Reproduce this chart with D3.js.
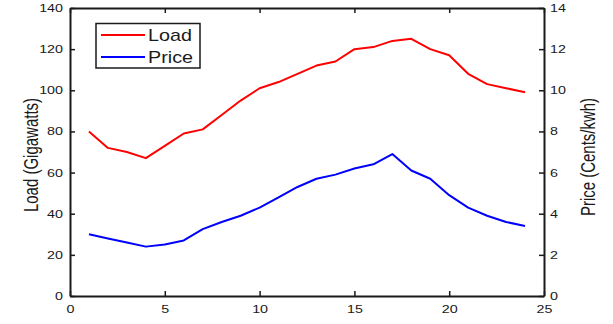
<!DOCTYPE html>
<html>
<head>
<meta charset="utf-8">
<script src="https://cdn.jsdelivr.net/npm/d3@7"></script>
<style>
  html, body { margin: 0; padding: 0; background: #fff; }
  svg { display: block; }
  text { font-family: "Liberation Sans", Arial, Helvetica, sans-serif; fill: #1a1a1a; }
</style>
</head>
<body>
<svg id="chart" width="613" height="324"></svg>
<script>
// Hourly load and electricity price over one day
const hours = d3.range(1, 25);
const load = [80, 72, 70, 67, 73, 79, 81, 88, 95, 101, 104, 108, 112, 114, 120, 121, 124, 125, 120, 117, 108, 103, 101, 99];
const price = [3.0, 2.8, 2.6, 2.4, 2.5, 2.7, 3.25, 3.6, 3.9, 4.3, 4.8, 5.3, 5.7, 5.9, 6.2, 6.4, 6.9, 6.1, 5.7, 4.9, 4.3, 3.9, 3.6, 3.4];
const xTicks = [0, 5, 10, 15, 20, 25];
const loadTicks = [0, 20, 40, 60, 80, 100, 120, 140];
const priceTicks = [0, 2, 4, 6, 8, 10, 12, 14];
const seriesNames = ["Load", "Price"];
const seriesColors = ["#ff0000", "#0000ff"];

const svg = d3.select("#chart");
const plotLeft = 70, plotRight = 544, plotTop = 8, plotBottom = 296;
const stretch = 1.3; // horizontal glyph widening

const x = d3.scaleLinear().domain([0, 25]).range([plotLeft, plotRight]);
const yL = d3.scaleLinear().domain([0, 140]).range([plotBottom, plotTop]);
const yR = d3.scaleLinear().domain([0, 14]).range([plotBottom, plotTop]);

function styleAxis(g) {
  g.select(".domain").attr("stroke", "#1a1a1a").attr("stroke-width", 2);
  g.selectAll(".tick line").attr("stroke", "#1a1a1a").attr("stroke-width", 1.5);
  g.selectAll(".tick text").attr("font-size", 11).style("font-family", "'Liberation Sans', Arial, sans-serif").attr("fill", "#1a1a1a");
}

// bottom x axis
const gB = svg.append("g").attr("transform", `translate(0,${plotBottom})`)
  .call(d3.axisBottom(x).tickValues(xTicks).tickFormat(d3.format("d")).tickSizeInner(-5).tickSizeOuter(0).tickPadding(9.5));
styleAxis(gB);
gB.selectAll(".tick text").attr("transform", `scale(${stretch},1)`);

// top x axis (ticks only)
const gT = svg.append("g").attr("transform", `translate(0,${plotTop})`)
  .call(d3.axisTop(x).tickValues(xTicks).tickFormat("").tickSizeInner(-5).tickSizeOuter(0));
styleAxis(gT);

// left y axis: load
const gL = svg.append("g").attr("transform", `translate(${plotLeft},0)`)
  .call(d3.axisLeft(yL).tickValues(loadTicks).tickFormat(d3.format("d")).tickSizeInner(-5).tickSizeOuter(0));
styleAxis(gL);
gL.selectAll(".tick text").attr("x", -7 / stretch).attr("transform", `scale(${stretch},1)`);

// right y axis: price
const gR = svg.append("g").attr("transform", `translate(${plotRight},0)`)
  .call(d3.axisRight(yR).tickValues(priceTicks).tickFormat(d3.format("d")).tickSizeInner(-5).tickSizeOuter(0));
styleAxis(gR);
gR.selectAll(".tick text").attr("x", 6 / stretch).attr("transform", `scale(${stretch},1)`);

// axis titles
svg.append("text")
  .attr("transform", `translate(37.5,${(plotTop + plotBottom) / 2 + 3}) scale(${stretch},1) rotate(-90)`)
  .attr("text-anchor", "middle").attr("font-size", 15)
  .text("Load (Gigawatts)");
svg.append("text")
  .attr("transform", `translate(594.5,${(plotTop + plotBottom) / 2 + 5}) scale(${stretch},1) rotate(-90)`)
  .attr("text-anchor", "middle").attr("font-size", 15)
  .text("Price (Cents/kwh)");

// series lines
const loadLine = d3.line().x((d, i) => x(hours[i])).y(d => yL(d));
const priceLine = d3.line().x((d, i) => x(hours[i])).y(d => yR(d));
svg.append("path").datum(load).attr("d", loadLine)
  .attr("fill", "none").attr("stroke", seriesColors[0]).attr("stroke-width", 2).attr("stroke-linejoin", "round");
svg.append("path").datum(price).attr("d", priceLine)
  .attr("fill", "none").attr("stroke", seriesColors[1]).attr("stroke-width", 2).attr("stroke-linejoin", "round");

// legend
const lg = svg.append("g");
lg.append("rect").attr("x", 96).attr("y", 23.5).attr("width", 104).attr("height", 44.5)
  .attr("fill", "#fff").attr("stroke", "#1a1a1a").attr("stroke-width", 1.5);
seriesNames.forEach((name, i) => {
  const yy = 35 + i * 22;
  lg.append("line").attr("x1", 101).attr("x2", 145).attr("y1", yy).attr("y2", yy)
    .attr("stroke", seriesColors[i]).attr("stroke-width", 2);
  lg.append("text").attr("transform", `translate(148,${yy + 6}) scale(${stretch * 0.95},1)`)
    .attr("font-size", 16).text(name);
});
</script>
</body>
</html>
